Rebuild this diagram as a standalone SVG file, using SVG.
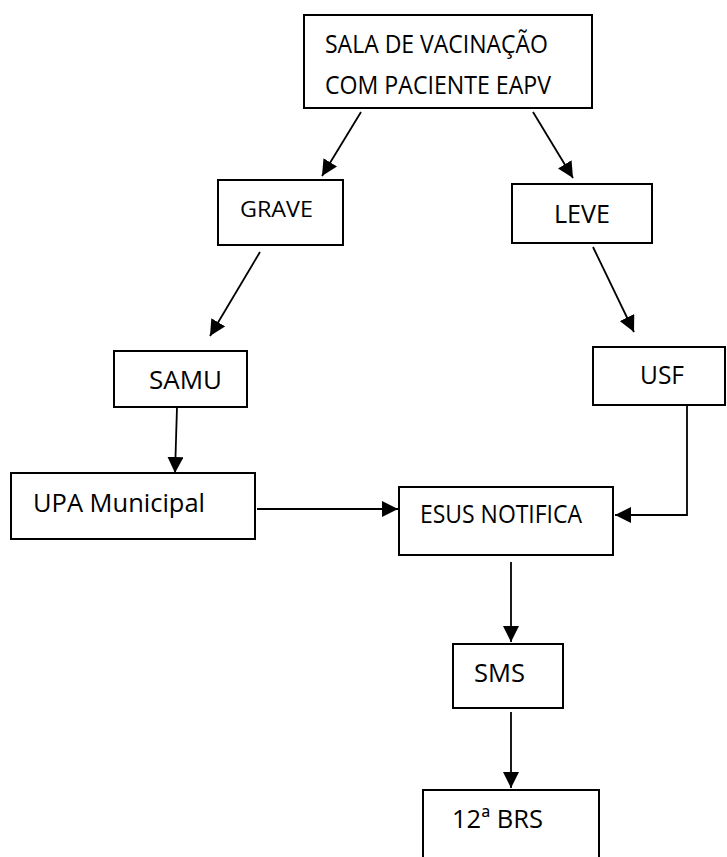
<svg xmlns="http://www.w3.org/2000/svg" width="727" height="857" viewBox="0 0 727 857">
<style>
.box{fill:#fff;stroke:#000;stroke-width:2}
.t{font-family:"Open Sans","Liberation Sans",sans-serif;font-size:26px;fill:#000}
.s{font-size:22px}
.c{fill:none;stroke:#000;stroke-width:1.8}
</style>
<defs>
<marker id="ah" viewBox="0 0 16 16" refX="16" refY="8" markerWidth="16" markerHeight="16" markerUnits="userSpaceOnUse" orient="auto">
<path d="M0,0 L16,8 L0,16 z" fill="#000"/>
</marker>
</defs>
<rect width="727" height="857" fill="#fff"/>
<g id="connectors">
<line class="c" x1="361" y1="112" x2="322" y2="176" marker-end="url(#ah)"/>
<line class="c" x1="533" y1="112" x2="573" y2="178" marker-end="url(#ah)"/>
<line class="c" x1="260" y1="252" x2="210" y2="336" marker-end="url(#ah)"/>
<line class="c" x1="593" y1="247" x2="634" y2="332" marker-end="url(#ah)"/>
<line class="c" x1="177" y1="407" x2="175" y2="473" marker-end="url(#ah)"/>
<line class="c" x1="257" y1="509" x2="398" y2="509" marker-end="url(#ah)"/>
<polyline class="c" points="687,405 687,515 615,515" marker-end="url(#ah)"/>
<line class="c" x1="511" y1="562" x2="511" y2="642" marker-end="url(#ah)"/>
<line class="c" x1="511" y1="712" x2="511" y2="788" marker-end="url(#ah)"/>
</g>
<g id="sala">
<rect class="box" x="304" y="15" width="288" height="93"/>
<text class="t" x="325" y="53" textLength="223" lengthAdjust="spacingAndGlyphs">SALA DE VACINAÇÃO</text>
<text class="t" x="325" y="94" textLength="226" lengthAdjust="spacingAndGlyphs">COM PACIENTE EAPV</text>
</g>
<g id="grave">
<rect class="box" x="218" y="180" width="125" height="65"/>
<text class="t s" x="240" y="217" textLength="73" lengthAdjust="spacingAndGlyphs">GRAVE</text>
</g>
<g id="leve">
<rect class="box" x="512" y="184" width="140" height="59"/>
<text class="t" x="554" y="223" textLength="56" lengthAdjust="spacingAndGlyphs">LEVE</text>
</g>
<g id="samu">
<rect class="box" x="114" y="351" width="133" height="56"/>
<text class="t" x="149" y="389" textLength="73" lengthAdjust="spacingAndGlyphs">SAMU</text>
</g>
<g id="usf">
<rect class="box" x="593" y="347" width="132" height="58"/>
<text class="t" x="640" y="384" textLength="44" lengthAdjust="spacingAndGlyphs">USF</text>
</g>
<g id="upa">
<rect class="box" x="11" y="473" width="244" height="66"/>
<text class="t" x="33" y="512" textLength="172" lengthAdjust="spacingAndGlyphs">UPA Municipal</text>
</g>
<g id="esus">
<rect class="box" x="399" y="487" width="214" height="68"/>
<text class="t" x="420" y="523" textLength="162" lengthAdjust="spacingAndGlyphs">ESUS NOTIFICA</text>
</g>
<g id="sms">
<rect class="box" x="453" y="644" width="110" height="64"/>
<text class="t" x="474" y="682" textLength="51" lengthAdjust="spacingAndGlyphs">SMS</text>
</g>
<g id="brs">
<rect class="box" x="423" y="790" width="176" height="90"/>
<text class="t" x="452" y="828" textLength="91" lengthAdjust="spacingAndGlyphs">12ª BRS</text>
</g>
</svg>
